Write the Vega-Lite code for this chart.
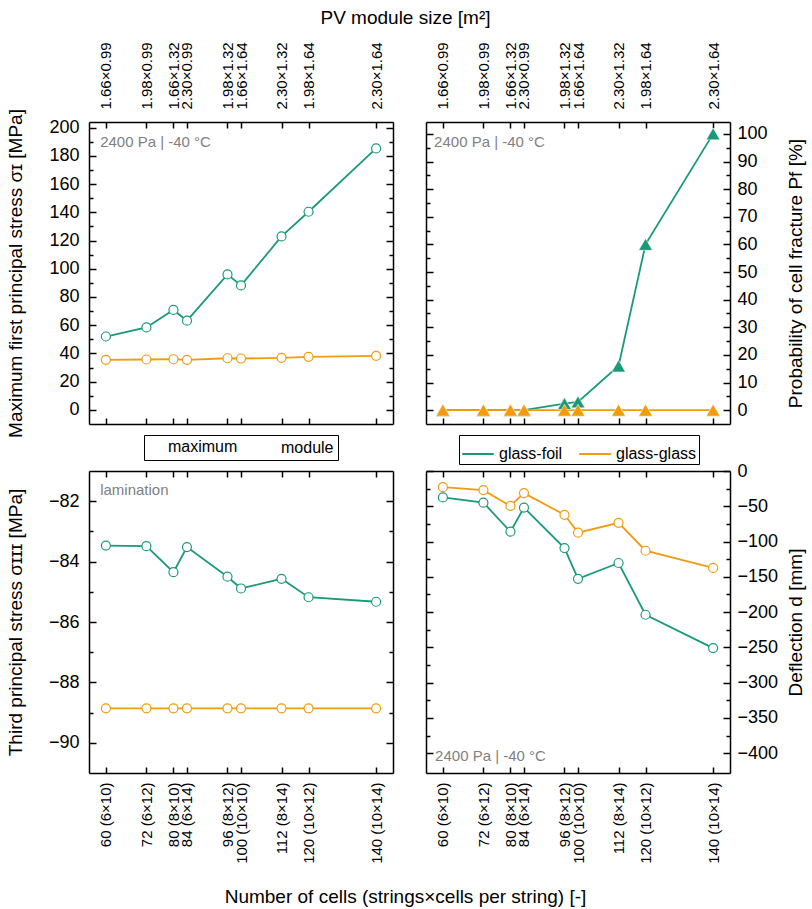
{
  "$schema": "https://vega.github.io/schema/vega-lite/v6.json",
  "padding": {"left": 5, "top": 8, "right": 5, "bottom": 5},
  "background": "white",
  "bounds": "flush",
  "columns": 2,
  "spacing": {"row": 47, "column": 33},
  "config": {
    "font": "Liberation Sans",
    "view": {"stroke": null},
    "axis": {"domainColor": "black", "domainWidth": 1.5, "tickColor": "black", "tickWidth": 1.5, "grid": false, "labelColor": "black", "titleColor": "black", "labelFontSize": 18, "titleFontSize": 19, "titleFontWeight": "normal", "labelFont": "Liberation Sans", "titleFont": "Liberation Sans", "labelOverlap": false, "labelFlush": false, "labelBound": false},
    "legend": {"labelFont": "Liberation Sans", "labelFontSize": 16, "labelColor": "black"}
  },
  "resolve": {"scale": {"color": "independent", "shape": "independent"}, "legend": {"color": "independent", "shape": "independent"}},
  "datasets": {
    "rows": [
      {"cells": 60, "type": "glass-foil", "marker": "maximum", "s1": 52, "pf": 0, "s3": -83.47, "d": -37.4},
      {"cells": 72, "type": "glass-foil", "marker": "maximum", "s1": 58.4, "pf": 0, "s3": -83.49, "d": -44.9},
      {"cells": 80, "type": "glass-foil", "marker": "maximum", "s1": 70.8, "pf": 0, "s3": -84.35, "d": -86},
      {"cells": 84, "type": "glass-foil", "marker": "maximum", "s1": 63.2, "pf": 0, "s3": -83.52, "d": -51.9},
      {"cells": 96, "type": "glass-foil", "marker": "maximum", "s1": 96, "pf": 2.4, "s3": -84.5, "d": -109.3},
      {"cells": 100, "type": "glass-foil", "marker": "maximum", "s1": 88.2, "pf": 3, "s3": -84.89, "d": -152.8},
      {"cells": 112, "type": "glass-foil", "marker": "maximum", "s1": 122.9, "pf": 16, "s3": -84.57, "d": -130.4},
      {"cells": 120, "type": "glass-foil", "marker": "maximum", "s1": 140.4, "pf": 60, "s3": -85.18, "d": -203.7},
      {"cells": 140, "type": "glass-foil", "marker": "maximum", "s1": 185.3, "pf": 100, "s3": -85.33, "d": -251},
      {"cells": 60, "type": "glass-glass", "marker": "maximum", "s1": 35.5, "pf": 0, "s3": -88.86, "d": -22.9},
      {"cells": 72, "type": "glass-glass", "marker": "maximum", "s1": 35.7, "pf": 0, "s3": -88.86, "d": -27.1},
      {"cells": 80, "type": "glass-glass", "marker": "maximum", "s1": 35.9, "pf": 0, "s3": -88.86, "d": -49.5},
      {"cells": 84, "type": "glass-glass", "marker": "maximum", "s1": 35.5, "pf": 0, "s3": -88.86, "d": -31.3},
      {"cells": 96, "type": "glass-glass", "marker": "maximum", "s1": 36.6, "pf": 0, "s3": -88.86, "d": -62.1},
      {"cells": 100, "type": "glass-glass", "marker": "maximum", "s1": 36.4, "pf": 0, "s3": -88.86, "d": -87.4},
      {"cells": 112, "type": "glass-glass", "marker": "maximum", "s1": 36.9, "pf": 0, "s3": -88.86, "d": -73.4},
      {"cells": 120, "type": "glass-glass", "marker": "maximum", "s1": 37.6, "pf": 0, "s3": -88.86, "d": -113},
      {"cells": 140, "type": "glass-glass", "marker": "maximum", "s1": 38.3, "pf": 0, "s3": -88.86, "d": -137.4}
    ]
  },
  "concat": [
    {
      "width": 304, "height": 302,
      "data": {"name": "rows"},
      "resolve": {"axis": {"x": "independent", "y": "independent"}},
      "layer": [
        {
          "mark": {"type": "line", "strokeWidth": 1.8},
          "encoding": {
            "x": {"field": "cells", "type": "quantitative", "scale": {"domain": [55, 145], "nice": false, "zero": false},
              "axis": {"orient": "top", "values": [60, 72, 80, 84, 96, 100, 112, 120, 140],
                "labelExpr": "['1.66×0.99','1.98×0.99','1.66×1.32','2.30×0.99','1.98×1.32','1.66×1.64','2.30×1.32','1.98×1.64','2.30×1.64'][indexof([60,72,80,84,96,100,112,120,140], datum.value)]",
                "labelAngle": 270, "labelAlign": "left", "labelBaseline": "middle", "labelFontSize": 15, "labelPadding": 19, "tickSize": -6,
                "title": "PV module size [m²]", "titleX": 316, "titlePadding": 14}},
            "y": {"field": "s1", "type": "quantitative", "scale": {"domain": [-10, 204], "nice": false, "zero": false},
              "axis": {"orient": "left", "values": [0,10,20,30,40,50,60,70,80,90,100,110,120,130,140,150,160,170,180,190,200],
                "labelExpr": "datum.value % 20 === 0 ? datum.label : ''",
                "tickSize": {"condition": {"test": "datum.value % 20 === 0", "value": -7}, "value": -4},
                "labelPadding": 17,
                "title": "Maximum first principal stress σɪ [MPa]", "titleX": -74, "titleBaseline": "middle", "titleAngle": 270}},
            "color": {"field": "type", "type": "nominal", "scale": {"domain": ["glass-foil", "glass-glass"], "range": ["#1a9a78", "#f29b0e"]}, "legend": null}
          }
        },
        {
          "mark": {"type": "point", "size": 81, "filled": false, "fill": "white", "strokeWidth": 1.2, "opacity": 1},
          "encoding": {
            "x": {"field": "cells", "type": "quantitative", "axis": {"orient": "bottom", "values": [60, 72, 80, 84, 96, 100, 112, 120, 140], "labels": false, "tickSize": -6, "title": null}},
            "y": {"field": "s1", "type": "quantitative", "axis": {"orient": "right", "values": [0,10,20,30,40,50,60,70,80,90,100,110,120,130,140,150,160,170,180,190,200], "labels": false, "tickSize": {"condition": {"test": "datum.value % 20 === 0", "value": -7}, "value": -4}, "title": null}},
            "color": {"field": "type", "type": "nominal", "legend": null},
            "shape": {"field": "marker", "type": "nominal", "scale": {"domain": ["maximum", "module"], "range": ["circle", "triangle-up"]},
              "legend": {"orient": "none", "legendX": 55, "legendY": 313, "direction": "horizontal", "title": null, "strokeColor": "black", "fillColor": "white", "padding": 4, "columnPadding": 22, "symbolSize": 150,
                "symbolStrokeColor": "#666666", "symbolStrokeWidth": 1, "symbolOpacity": 1,
                "encode": {"symbols": {
                  "fill": {"condition": {"test": "datum.value === 'module'", "value": "#666666"}, "value": "white"},
                  "stroke": {"value": "#666666"},
                  "strokeWidth": {"value": 1}}}}}
          }
        },
        {
          "data": {"values": [{"note": "2400 Pa | -40 °C"}]},
          "mark": {"type": "text", "align": "left", "baseline": "middle", "fontSize": 15, "color": "#808080"},
          "encoding": {
            "x": {"datum": 58.3, "type": "quantitative", "axis": null},
            "y": {"datum": 190, "type": "quantitative", "axis": null},
            "text": {"field": "note"}
          }
        }
      ]
    },
    {
      "width": 304, "height": 302,
      "data": {"name": "rows"},
      "resolve": {"axis": {"x": "independent", "y": "independent"}},
      "layer": [
        {
          "mark": {"type": "line", "strokeWidth": 1.8},
          "encoding": {
            "x": {"field": "cells", "type": "quantitative", "scale": {"domain": [55, 145], "nice": false, "zero": false},
              "axis": {"orient": "top", "values": [60, 72, 80, 84, 96, 100, 112, 120, 140],
                "labelExpr": "['1.66×0.99','1.98×0.99','1.66×1.32','2.30×0.99','1.98×1.32','1.66×1.64','2.30×1.32','1.98×1.64','2.30×1.64'][indexof([60,72,80,84,96,100,112,120,140], datum.value)]",
                "labelAngle": 270, "labelAlign": "left", "labelBaseline": "middle", "labelFontSize": 15, "labelPadding": 19, "tickSize": -6, "title": null}},
            "y": {"field": "pf", "type": "quantitative", "scale": {"domain": [-5, 104.3], "nice": false, "zero": false},
              "axis": {"orient": "right", "values": [0,5,10,15,20,25,30,35,40,45,50,55,60,65,70,75,80,85,90,95,100],
                "labelExpr": "datum.value % 10 === 0 ? datum.label : ''",
                "tickSize": {"condition": {"test": "datum.value % 10 === 0", "value": -7}, "value": -4},
                "labelPadding": 14,
                "title": "Probability of cell fracture Pf [%]", "titleX": 65, "titleBaseline": "middle", "titleAngle": 270}},
            "color": {"field": "type", "type": "nominal", "scale": {"domain": ["glass-foil", "glass-glass"], "range": ["#1a9a78", "#f29b0e"]},
              "legend": {"orient": "none", "legendX": 33, "legendY": 313, "direction": "horizontal", "title": null, "strokeColor": "black", "fillColor": "white", "padding": 2, "columnPadding": 12, "symbolType": "stroke", "symbolSize": 1000, "symbolStrokeWidth": 2}}
          }
        },
        {
          "mark": {"type": "point", "shape": "triangle-up", "size": 190, "filled": true, "stroke": "white", "strokeWidth": 0.5, "opacity": 1},
          "encoding": {
            "x": {"field": "cells", "type": "quantitative", "axis": {"orient": "bottom", "values": [60, 72, 80, 84, 96, 100, 112, 120, 140], "labels": false, "tickSize": -6, "title": null}},
            "y": {"field": "pf", "type": "quantitative", "axis": {"orient": "left", "values": [0,5,10,15,20,25,30,35,40,45,50,55,60,65,70,75,80,85,90,95,100], "labels": false, "tickSize": {"condition": {"test": "datum.value % 10 === 0", "value": -7}, "value": -4}, "title": null}},
            "color": {"field": "type", "type": "nominal"}
          }
        },
        {
          "data": {"values": [{"note": "2400 Pa | -40 °C"}]},
          "mark": {"type": "text", "align": "left", "baseline": "middle", "fontSize": 15, "color": "#808080"},
          "encoding": {
            "x": {"datum": 57.4, "type": "quantitative", "axis": null},
            "y": {"datum": 97.2, "type": "quantitative", "axis": null},
            "text": {"field": "note"}
          }
        }
      ]
    },
    {
      "width": 304, "height": 302,
      "data": {"name": "rows"},
      "resolve": {"axis": {"x": "independent", "y": "independent"}},
      "layer": [
        {
          "mark": {"type": "line", "strokeWidth": 1.8},
          "encoding": {
            "x": {"field": "cells", "type": "quantitative", "scale": {"domain": [55, 145], "nice": false, "zero": false},
              "axis": {"orient": "bottom", "values": [60, 72, 80, 84, 96, 100, 112, 120, 140],
                "labelExpr": "['60 (6×10)','72 (6×12)','80 (8×10)','84 (6×14)','96 (8×12)','100 (10×10)','112 (8×14)','120 (10×12)','140 (10×14)'][indexof([60,72,80,84,96,100,112,120,140], datum.value)]",
                "labelAngle": 270, "labelAlign": "right", "labelBaseline": "middle", "labelFontSize": 15, "labelPadding": 15, "tickSize": -6,
                "title": "Number of cells (strings×cells per string) [-]", "titleX": 316, "titlePadding": 24}},
            "y": {"field": "s3", "type": "quantitative", "scale": {"domain": [-91, -81], "nice": false, "zero": false},
              "axis": {"orient": "left", "values": [-90,-89,-88,-87,-86,-85,-84,-83,-82],
                "labelExpr": "datum.value % 2 === 0 ? datum.label : ''",
                "tickSize": {"condition": {"test": "datum.value % 2 === 0", "value": -7}, "value": -4},
                "labelPadding": 17,
                "title": "Third principal stress σɪɪɪ [MPa]", "titleX": -74, "titleBaseline": "middle", "titleAngle": 270}},
            "color": {"field": "type", "type": "nominal", "scale": {"domain": ["glass-foil", "glass-glass"], "range": ["#1a9a78", "#f29b0e"]}, "legend": null}
          }
        },
        {
          "mark": {"type": "point", "shape": "circle", "size": 81, "filled": false, "fill": "white", "strokeWidth": 1.2, "opacity": 1},
          "encoding": {
            "x": {"field": "cells", "type": "quantitative", "axis": {"orient": "top", "values": [60, 72, 80, 84, 96, 100, 112, 120, 140], "labels": false, "tickSize": -6, "title": null}},
            "y": {"field": "s3", "type": "quantitative", "axis": {"orient": "right", "values": [-90,-89,-88,-87,-86,-85,-84,-83,-82], "labels": false, "tickSize": {"condition": {"test": "datum.value % 2 === 0", "value": -7}, "value": -4}, "title": null}},
            "color": {"field": "type", "type": "nominal", "legend": null}
          }
        },
        {
          "data": {"values": [{"note": "lamination"}]},
          "mark": {"type": "text", "align": "left", "baseline": "middle", "fontSize": 15, "color": "#808080"},
          "encoding": {
            "x": {"datum": 58.3, "type": "quantitative", "axis": null},
            "y": {"datum": -81.63, "type": "quantitative", "axis": null},
            "text": {"field": "note"}
          }
        }
      ]
    },
    {
      "width": 304, "height": 302,
      "data": {"name": "rows"},
      "resolve": {"axis": {"x": "independent", "y": "independent"}},
      "layer": [
        {
          "mark": {"type": "line", "strokeWidth": 1.8},
          "encoding": {
            "x": {"field": "cells", "type": "quantitative", "scale": {"domain": [55, 145], "nice": false, "zero": false},
              "axis": {"orient": "bottom", "values": [60, 72, 80, 84, 96, 100, 112, 120, 140],
                "labelExpr": "['60 (6×10)','72 (6×12)','80 (8×10)','84 (6×14)','96 (8×12)','100 (10×10)','112 (8×14)','120 (10×12)','140 (10×14)'][indexof([60,72,80,84,96,100,112,120,140], datum.value)]",
                "labelAngle": 270, "labelAlign": "right", "labelBaseline": "middle", "labelFontSize": 15, "labelPadding": 15, "tickSize": -6, "title": null}},
            "y": {"field": "d", "type": "quantitative", "scale": {"domain": [-428, 0], "nice": false, "zero": false},
              "axis": {"orient": "right", "values": [-400,-375,-350,-325,-300,-275,-250,-225,-200,-175,-150,-125,-100,-75,-50,-25,0],
                "labelExpr": "datum.value % 50 === 0 ? datum.label : ''",
                "tickSize": {"condition": {"test": "datum.value % 50 === 0", "value": -7}, "value": -4},
                "labelPadding": 14,
                "title": "Deflection d [mm]", "titleX": 65, "titleBaseline": "middle", "titleAngle": 270}},
            "color": {"field": "type", "type": "nominal", "scale": {"domain": ["glass-foil", "glass-glass"], "range": ["#1a9a78", "#f29b0e"]}, "legend": null}
          }
        },
        {
          "mark": {"type": "point", "shape": "circle", "size": 81, "filled": false, "fill": "white", "strokeWidth": 1.2, "opacity": 1},
          "encoding": {
            "x": {"field": "cells", "type": "quantitative", "axis": {"orient": "top", "values": [60, 72, 80, 84, 96, 100, 112, 120, 140], "labels": false, "tickSize": -6, "title": null}},
            "y": {"field": "d", "type": "quantitative", "axis": {"orient": "left", "values": [-400,-375,-350,-325,-300,-275,-250,-225,-200,-175,-150,-125,-100,-75,-50,-25,0], "labels": false, "tickSize": {"condition": {"test": "datum.value % 50 === 0", "value": -7}, "value": -4}, "title": null}},
            "color": {"field": "type", "type": "nominal", "legend": null}
          }
        },
        {
          "data": {"values": [{"note": "2400 Pa | -40 °C"}]},
          "mark": {"type": "text", "align": "left", "baseline": "middle", "fontSize": 15, "color": "#808080"},
          "encoding": {
            "x": {"datum": 57.7, "type": "quantitative", "axis": null},
            "y": {"datum": -404, "type": "quantitative", "axis": null},
            "text": {"field": "note"}
          }
        }
      ]
    }
  ]
}
